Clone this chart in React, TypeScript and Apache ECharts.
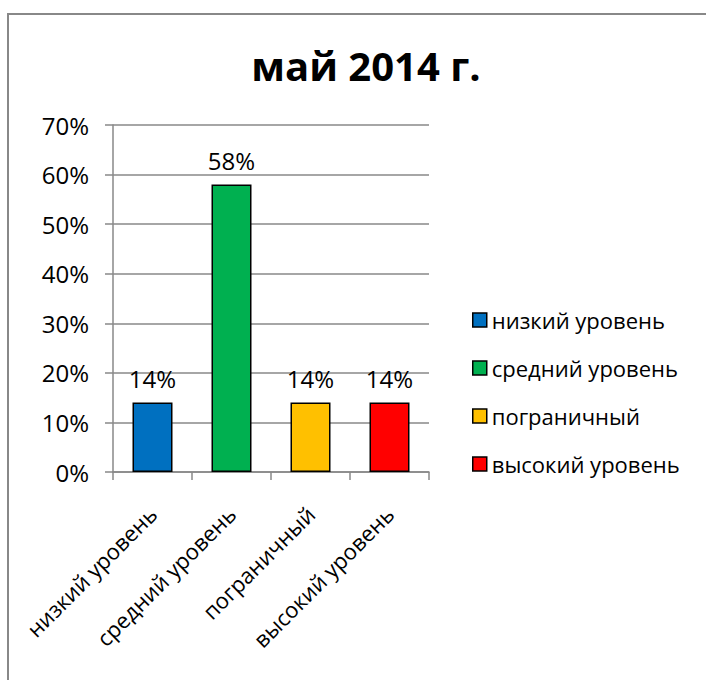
import React, { useEffect, useRef } from "react";
import * as echarts from "echarts";

const titleText = "май 2014 г.";
const categories = ["низкий уровень", "средний уровень", "пограничный", "высокий уровень"];
const values = [0.14, 0.58, 0.14, 0.14];
const colors = ["#0070C0", "#00B050", "#FFC000", "#FF0000"];
const yTicks = [0, 0.1, 0.2, 0.3, 0.4, 0.5, 0.6, 0.7];

const FONT = "'Open Sans', 'Noto Sans', sans-serif";

export default function App() {
  const ref = useRef<HTMLDivElement>(null);
  useEffect(() => {
    if (!ref.current) return;
    const chart = echarts.init(ref.current, null, { renderer: "svg" });
    const pct = (v: number) => Math.round(v * 100) + "%";
    const series = categories.map((name, i) => ({
      name,
      type: "bar",
      stack: "all",
      barWidth: 40,
      data: categories.map((_, j) => (j === i ? values[i] : "-")),
      itemStyle: { color: colors[i], borderColor: "#000", borderWidth: 1.5 },
      label: {
        show: true,
        position: "top",
        distance: 12,
        formatter: (p: any) => pct(p.value),
        color: "#000",
        fontSize: 24,
        fontFamily: FONT,
      },
    }));
    chart.setOption({
      animation: false,
      backgroundColor: "#fff",
      textStyle: { fontFamily: FONT },
      title: {
        text: titleText,
        left: 361,
        textAlign: "center",
        top: 40,
        textStyle: { fontSize: 40, fontWeight: "bold", color: "#000", fontFamily: FONT },
      },
      graphic: [
        {
          type: "rect",
          shape: { x: 8, y: 14, width: 740, height: 720 },
          style: { fill: "none", stroke: "#888", lineWidth: 2 },
          silent: true,
        },
      ],
      legend: {
        orient: "vertical",
        left: 472,
        top: 308,
        padding: 0,
        itemWidth: 14,
        itemHeight: 14,
        itemGap: 24,
        icon: "rect",
        data: categories,
        itemStyle: { borderColor: "#000", borderWidth: 1.5 },
        textStyle: { fontSize: 22, color: "#000", fontFamily: FONT, lineHeight: 24 },
      },
      grid: { left: 113, right: 277, top: 125, bottom: 208, containLabel: false },
      xAxis: {
        type: "category",
        data: categories,
        boundaryGap: true,
        axisLine: { show: true, lineStyle: { color: "#888", width: 1.5 } },
        axisTick: { show: true, length: 8, alignWithLabel: false, lineStyle: { color: "#888", width: 1.5 } },
        axisLabel: { rotate: 45, margin: 38, fontSize: 22, color: "#000", fontFamily: FONT, interval: 0 },
        splitLine: { show: false },
      },
      yAxis: {
        type: "value",
        min: yTicks[0],
        max: yTicks[yTicks.length - 1],
        interval: yTicks[1] - yTicks[0],
        axisLine: { show: true, lineStyle: { color: "#888", width: 1.5 } },
        axisTick: { show: true, length: 8, lineStyle: { color: "#888", width: 1.5 } },
        axisLabel: { formatter: (v: number) => pct(v), margin: 24, fontSize: 24, color: "#000", fontFamily: FONT },
        splitLine: { show: true, lineStyle: { color: "#888", width: 1.5 } },
      },
      series,
    });
    return () => chart.dispose();
  }, []);
  return <div ref={ref} style={{ position: "fixed", left: 0, top: 0, width: 706, height: 680 }} />;
}
